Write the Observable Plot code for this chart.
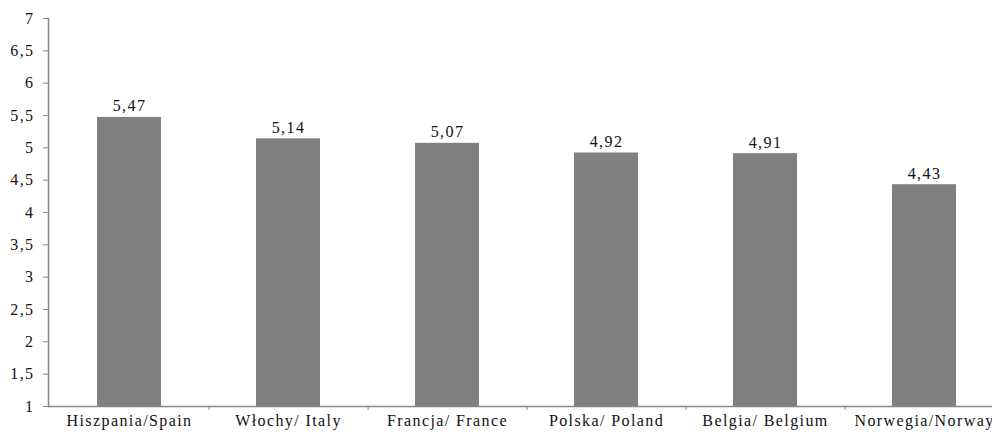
<!DOCTYPE html>
<html>
<head>
<meta charset="utf-8">
<script src="https://cdn.jsdelivr.net/npm/d3@7"></script>
<script src="https://cdn.jsdelivr.net/npm/@observablehq/plot@0.6"></script>
<style>
  html, body { margin: 0; padding: 0; background: #fff; overflow: hidden; }
  #chart { width: 992px; height: 432px; overflow: hidden; }
  #chart svg { max-width: none !important; }
</style>
</head>
<body>
<div id="chart"></div>
<script>
const countries = ["Hiszpania/Spain", "Włochy/ Italy", "Francja/ France", "Polska/ Poland", "Belgia/ Belgium", "Norwegia/Norway"];
const values = [5.47, 5.14, 5.07, 4.92, 4.91, 4.43];
const yTicks = [1, 1.5, 2, 2.5, 3, 3.5, 4, 4.5, 5, 5.5, 6, 6.5, 7];

const data = countries.map((c, i) => ({c, v: values[i]}));
const comma = d => String(d).replace(".", ",");
const axisColor = "#868686";

const chart = Plot.plot({
  width: 1004,
  height: 432,
  marginLeft: 48,
  marginRight: 0,
  marginTop: 18,
  marginBottom: 26,
  style: {fontFamily: "'Liberation Serif', 'Times New Roman', serif", fontSize: "16px", letterSpacing: "1.4px", color: "#111", background: "#fff", maxWidth: "none"},
  x: {domain: countries, paddingInner: 0.6, paddingOuter: 0.3, label: null},
  y: {domain: [1, 7], label: null},
  marks: [
    Plot.barY(data, {x: "c", y1: 1, y2: "v", fill: "#808080"}),
    Plot.ruleY([1], {stroke: axisColor, strokeWidth: 1.5}),
    Plot.frame({anchor: "left", stroke: axisColor, strokeWidth: 1.5}),
    Plot.ruleX(countries.slice(0, 5), {x: d => d, dx: 79.6, y1: 1, y2: 0.94, stroke: axisColor}),
    Plot.axisY({ticks: yTicks, tickSize: 5, tickPadding: 9, tickFormat: comma, stroke: axisColor, fill: "#111"}),
    Plot.axisX({tickSize: 0, tickPadding: 8, fill: "#111"}),
    Plot.text(data, {x: "c", y: "v", text: d => comma(d.v), dy: -6, lineAnchor: "bottom", fill: "#111"})
  ]
});
document.getElementById("chart").appendChild(chart);
</script>
</body>
</html>
